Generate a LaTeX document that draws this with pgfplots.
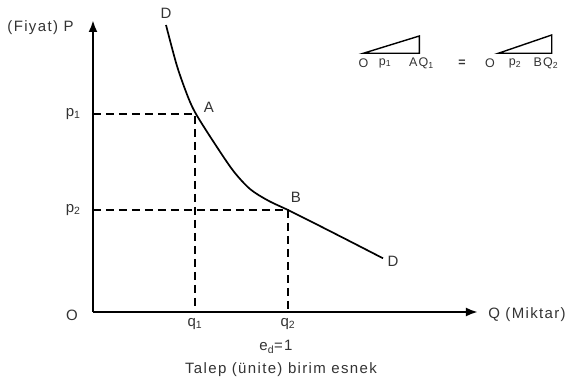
\documentclass[border=0pt]{standalone}
\usepackage{fontspec}
\setmainfont{Liberation Sans}[LetterSpace=9]
\usepackage{pgfplots}
\pgfplotsset{compat=1.18}
\usetikzlibrary{arrows.meta}
\definecolor{txt}{HTML}{333333}
\begin{document}
\begin{tikzpicture}[font=\fontsize{15}{17}\selectfont, text=txt]
\path[use as bounding box] (-93pt,-68pt) rectangle (473pt,312pt);
\begin{axis}[
  x=1pt, y=1pt, xmin=0, xmax=385, ymin=0, ymax=292,
  anchor=origin, at={(0,0)}, clip=false,
  axis lines=left,
  axis line style={line width=2.8pt, -{Latex[length=12pt,width=9pt]}},
  xtick={102,195}, xticklabels={q\textsubscript{1}, q\textsubscript{2}},
  ytick={198,102}, yticklabels={p\textsubscript{1}, p\textsubscript{2}},
  major tick length=0pt,
  xticklabel style={yshift=-3pt, text=txt},
  yticklabel style={xshift=-9pt, text=txt},
]
\addplot[black, line width=1.7pt, smooth] coordinates {
  (73,287) (84,246) (95,215) (103,198) (120,171) (140,141.5) (157,123) (175,111.5) (195,102) (220,89.5) (254,72.2) (290,53.7)};
\addplot[black, line width=2pt, dash pattern=on 8pt off 5pt] coordinates {(0,198) (102,198) (102,0)};
\addplot[black, line width=2pt, dash pattern=on 8pt off 5pt] coordinates {(0,102) (195,102) (195,0)};
\node at (axis cs:116,205) {A};
\node at (axis cs:203,115) {B};
\node at (axis cs:73,299) {D};
\node at (axis cs:300,51) {D};
\node at (axis cs:-52.5,284) {(Fiyat) P};
\node at (axis cs:434,-3) {Q (Miktar)};
\node at (axis cs:-21,-3) {O};
\node at (axis cs:183,-35) {e\textsubscript{d}=1};
\node at (axis cs:188,-58) {Talep (ünite) birim esnek};
\end{axis}
\draw[black, line width=1.4pt] (270.3pt,258.7pt) -- (326.3pt,258.7pt) -- (326.3pt,276pt) -- cycle;
\draw[black, line width=1.4pt] (405.3pt,258.7pt) -- (458.7pt,258.7pt) -- (458.7pt,277pt) -- cycle;
\begin{scope}[font=\fontsize{12.5}{14}\selectfont]
\node at (270.5pt,249pt) {O};
\node at (292pt,249pt) {p\textsubscript{1}};
\node at (328.5pt,249pt) {AQ\textsubscript{1}};
\node at (369.5pt,249pt) {\textbf{=}};
\node at (397pt,249pt) {O};
\node at (422pt,249pt) {p\textsubscript{2}};
\node at (453pt,249pt) {BQ\textsubscript{2}};
\end{scope}
\end{tikzpicture}
\end{document}
